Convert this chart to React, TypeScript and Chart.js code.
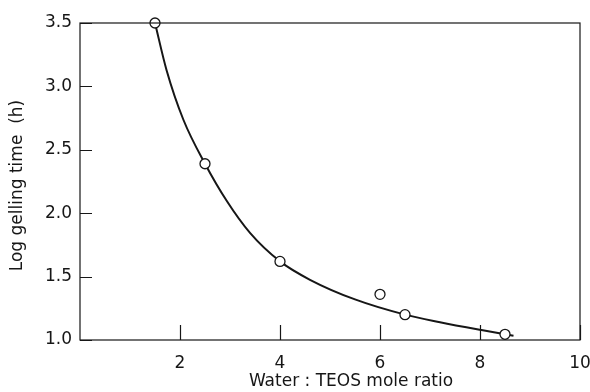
import React, { useEffect, useRef } from "react";
import { Chart, registerables } from "chart.js";

Chart.register(...registerables);

// Measured gelling times (open circles)
const ratioPoints = [1.5, 2.5, 4, 6, 6.5, 8.5];
const logTimePoints = [3.5, 2.39, 1.62, 1.36, 1.2, 1.045];

// Hand-drawn trend curve, read along its length
const curveRatio = [1.5, 1.73, 2.07, 2.5, 2.93, 3.4, 4, 4.6, 5.5, 6.5, 7.2, 8, 8.5, 8.67];
const curveLogTime = [3.5, 3.13, 2.735, 2.39, 2.1, 1.845, 1.62, 1.475, 1.32, 1.2, 1.14, 1.08, 1.045, 1.034];

// Axis ticks
const xTickValues = [2, 4, 6, 8, 10];
const yTickValues = [1.0, 1.5, 2.0, 2.5, 3.0, 3.5];

const xTitle = "Water : TEOS mole ratio";
const yTitle = "Log gelling time  (h)";

const INK = "#161616";
const FONT = "'DejaVu Sans', sans-serif";

const framePlugin = {
  id: "frameAndTicks",
  afterDraw(chart: any) {
    const { ctx, chartArea } = chart;
    const xs = chart.scales.x;
    const ys = chart.scales.y;
    ctx.save();
    ctx.strokeStyle = INK;
    ctx.lineWidth = 1.2;
    ctx.strokeRect(chartArea.left, chartArea.top, chartArea.right - chartArea.left, chartArea.bottom - chartArea.top);
    // inward tick marks
    ctx.beginPath();
    for (const v of xTickValues) {
      const px = Math.round(xs.getPixelForValue(v)) + 0.5;
      ctx.moveTo(px, chartArea.bottom);
      ctx.lineTo(px, chartArea.bottom - 15);
    }
    for (const v of yTickValues) {
      const py = Math.round(ys.getPixelForValue(v)) + 0.5;
      ctx.moveTo(chartArea.left, py);
      ctx.lineTo(chartArea.left + 12, py);
    }
    ctx.stroke();

    // axis titles
    ctx.fillStyle = INK;
    ctx.font = `17px ${FONT}`;
    ctx.textAlign = "center";
    ctx.textBaseline = "middle";
    ctx.fillText(xTitle, (chartArea.left + chartArea.right) / 2 + 21, 382);
    ctx.translate(18, (chartArea.top + chartArea.bottom) / 2 + 4);
    ctx.rotate(-Math.PI / 2);
    ctx.fillText(yTitle, 0, 0);
    ctx.restore();
  },
};

export default function App() {
  const canvasRef = useRef<HTMLCanvasElement | null>(null);

  useEffect(() => {
    if (!canvasRef.current) return;
    const chart = new Chart(canvasRef.current, {
      type: "scatter",
      data: {
        datasets: [
          {
            label: "measured",
            data: ratioPoints.map((x, i) => ({ x, y: logTimePoints[i] })),
            showLine: false,
            pointRadius: 5,
            pointBorderWidth: 1.3,
            pointBackgroundColor: "#ffffff",
            pointBorderColor: INK,
            clip: false,
            order: 0,
          },
          {
            label: "trend",
            data: curveRatio.map((x, i) => ({ x, y: curveLogTime[i] })),
            showLine: true,
            borderColor: INK,
            borderWidth: 2,
            pointRadius: 0,
            cubicInterpolationMode: "monotone",
            clip: false,
            order: 1,
          } as any,
        ],
      },
      options: {
        responsive: false,
        animation: false,
        layout: { padding: { top: 23, right: 10, left: 0, bottom: 0 } },
        plugins: {
          legend: { display: false },
          tooltip: { enabled: false },
        },
        scales: {
          x: {
            type: "linear",
            min: 0,
            max: 10,
            grid: { display: false, drawTicks: false },
            border: { display: false },
            afterBuildTicks: (scale: any) => {
              scale.ticks = xTickValues.map((v) => ({ value: v }));
            },
            afterFit: (scale: any) => {
              scale.height = 52;
              scale.paddingLeft = 0;
              scale.paddingRight = 0;
            },
            ticks: {
              padding: 13,
              color: INK,
              font: { family: FONT, size: 17 },
              callback: (v: any) => String(v),
            },
          },
          y: {
            type: "linear",
            min: 1,
            max: 3.5,
            grid: { display: false, drawTicks: false },
            border: { display: false },
            afterBuildTicks: (scale: any) => {
              scale.ticks = yTickValues.map((v) => ({ value: v }));
            },
            afterFit: (scale: any) => {
              scale.width = 80;
              scale.paddingTop = 0;
              scale.paddingBottom = 0;
            },
            ticks: {
              padding: 8,
              color: INK,
              font: { family: FONT, size: 17 },
              callback: (v: any) => Number(v).toFixed(1),
            },
          },
        },
      },
      plugins: [framePlugin],
    });
    return () => chart.destroy();
  }, []);

  return (
    <div style={{ position: "absolute", left: 0, top: 0, width: 590, height: 392, background: "#fff" }}>
      <canvas ref={canvasRef} width={590} height={392} style={{ display: "block" }} />
    </div>
  );
}
